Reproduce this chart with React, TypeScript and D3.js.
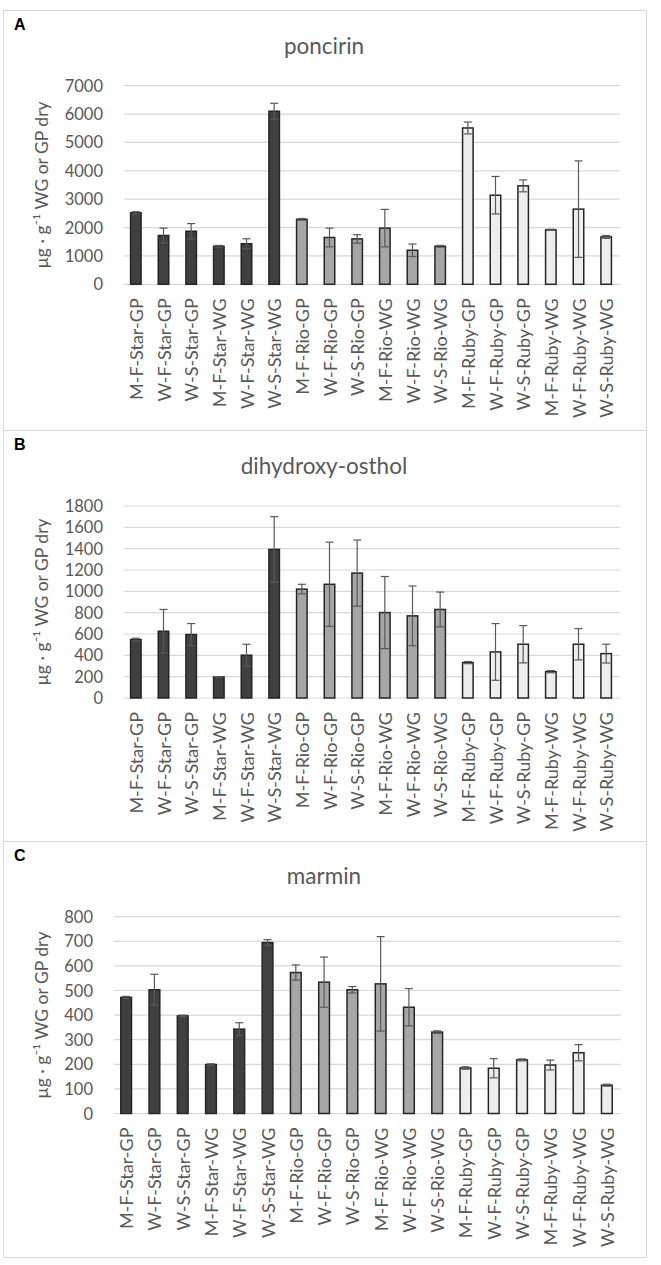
import React from 'react'
import * as d3 from 'd3'

// sample groups, same order in all three panels
const categories = [
  'M-F-Star-GP', 'W-F-Star-GP', 'W-S-Star-GP', 'M-F-Star-WG', 'W-F-Star-WG', 'W-S-Star-WG',
  'M-F-Rio-GP', 'W-F-Rio-GP', 'W-S-Rio-GP', 'M-F-Rio-WG', 'W-F-Rio-WG', 'W-S-Rio-WG',
  'M-F-Ruby-GP', 'W-F-Ruby-GP', 'W-S-Ruby-GP', 'M-F-Ruby-WG', 'W-F-Ruby-WG', 'W-S-Ruby-WG',
]
const cultivars = ['Star', 'Star', 'Star', 'Star', 'Star', 'Star', 'Rio', 'Rio', 'Rio', 'Rio', 'Rio', 'Rio',
  'Ruby', 'Ruby', 'Ruby', 'Ruby', 'Ruby', 'Ruby']

// A: poncirin
const poncirinMean = [2520, 1720, 1870, 1340, 1430, 6100, 2290, 1650, 1600, 1980, 1200, 1340, 5510, 3140, 3470, 1920, 2650, 1670]
const poncirinErr = [40, 260, 270, 30, 175, 280, 30, 330, 150, 660, 220, 30, 210, 660, 210, 20, 1700, 50]
const poncirinTicks = [0, 1000, 2000, 3000, 4000, 5000, 6000, 7000]

// B: dihydroxy-osthol
const ostholMean = [548, 626, 595, 197, 401, 1393, 1021, 1066, 1171, 801, 770, 830, 332, 432, 504, 247, 504, 416]
const ostholErr = [12, 204, 103, 3, 103, 307, 45, 395, 310, 338, 280, 163, 10, 266, 175, 10, 147, 88]
const ostholTicks = [0, 200, 400, 600, 800, 1000, 1200, 1400, 1600, 1800]

// C: marmin
const marminMean = [472, 503, 397, 199, 343, 695, 573, 534, 503, 527, 432, 331, 185, 184, 218, 197, 247, 115]
const marminErr = [4, 63, 3, 3, 26, 12, 31, 102, 13, 192, 76, 5, 5, 39, 4, 20, 33, 4]
const marminTicks = [0, 100, 200, 300, 400, 500, 600, 700, 800]

const fills: Record<string, string> = { Star: '#404040', Rio: '#a6a6a6', Ruby: '#ededed' }
const FONT = 'Lato, "Open Sans", sans-serif'
const TXT = '#595959'
const yTitle = 'µg · g⁻¹ WG or GP dry'

interface PanelProps {
  letter: string
  title: string
  mean: number[]
  err: number[]
  ticks: number[]
  boxTop: number
  boxBottom: number
  titleY: number
  plotTop: number
  plotBottom: number
  plotLeft: number
  plotRight: number
}

const Panel = (p: PanelProps) => {
  const x = d3.scaleBand().domain(categories).range([p.plotLeft, p.plotRight]).paddingInner(0.62).paddingOuter(0.31)
  const y = d3.scaleLinear().domain([0, d3.max(p.ticks) as number]).range([p.plotBottom, p.plotTop])
  const bw = x.bandwidth()
  const cap = 4

  return (
    <g>
      <rect x={3.5} y={p.boxTop + 0.5} width={643} height={p.boxBottom - p.boxTop} fill="#fff" stroke="#d9d9d9" />
      <text x={14} y={p.boxTop + 20} fontFamily="Arial, 'Liberation Sans', sans-serif" fontWeight="bold" fontSize={16} fill="#000">{p.letter}</text>
      <text x={324} y={p.titleY} textAnchor="middle" dominantBaseline="central" fontFamily={FONT} fontSize={22.5} fill={TXT}>{p.title}</text>

      {/* grid + y ticks */}
      {p.ticks.map((t) => (
        <g key={t}>
          <line x1={p.plotLeft + 2} x2={p.plotRight} y1={y(t)} y2={y(t)} stroke="#d9d9d9" strokeWidth={1.2} />
          <text x={p.plotLeft - 19} y={y(t)} textAnchor="end" dominantBaseline="central" fontFamily={FONT} fontSize={16.5} fill={TXT}>{t}</text>
        </g>
      ))}
      <text transform={`translate(41,${(p.plotTop + p.plotBottom) / 2}) rotate(-90)`} textAnchor="middle" dominantBaseline="central" fontFamily={FONT} fontSize={17.5} fill={TXT}>{yTitle}</text>

      {/* bars */}
      {categories.map((c, i) => (
        <rect key={c} x={x(c)} y={y(p.mean[i])} width={bw} height={p.plotBottom - y(p.mean[i])}
          fill={fills[cultivars[i]]} stroke="#262626" strokeWidth={1.5} />
      ))}

      {/* error bars */}
      {categories.map((c, i) => {
        const cx = (x(c) as number) + bw / 2
        const hi = y(p.mean[i] + p.err[i])
        const lo = y(Math.max(0, p.mean[i] - p.err[i]))
        return (
          <g key={c} stroke="#595959" strokeWidth={1.2}>
            <line x1={cx} x2={cx} y1={hi} y2={lo} />
            <line x1={cx - cap} x2={cx + cap} y1={hi} y2={hi} />
            <line x1={cx - cap} x2={cx + cap} y1={lo} y2={lo} />
          </g>
        )
      })}

      {/* x labels */}
      {categories.map((c) => (
        <text key={c} transform={`translate(${(x(c) as number) + bw / 2},${p.plotBottom + 14}) rotate(-90)`}
          textAnchor="end" dominantBaseline="central" fontFamily={FONT} fontSize={18} fill={TXT}>{c}</text>
      ))}
    </g>
  )
}

const App = () => {
  return (
    <svg width={661} height={1265} style={{ position: 'absolute', left: 0, top: 0 }}>
      <rect width={661} height={1265} fill="#fff" />
      <Panel letter="A" title="poncirin" mean={poncirinMean} err={poncirinErr} ticks={poncirinTicks}
        boxTop={10} boxBottom={430} titleY={45} plotTop={85.7} plotBottom={284.3} plotLeft={122} plotRight={620} />
      <Panel letter="B" title="dihydroxy-osthol" mean={ostholMean} err={ostholErr} ticks={ostholTicks}
        boxTop={430} boxBottom={841} titleY={465} plotTop={506} plotBottom={698} plotLeft={122} plotRight={620} />
      <Panel letter="C" title="marmin" mean={marminMean} err={marminErr} ticks={marminTicks}
        boxTop={841} boxBottom={1257} titleY={875} plotTop={916.7} plotBottom={1113.5} plotLeft={112} plotRight={621} />
    </svg>
  )
}

export default App
